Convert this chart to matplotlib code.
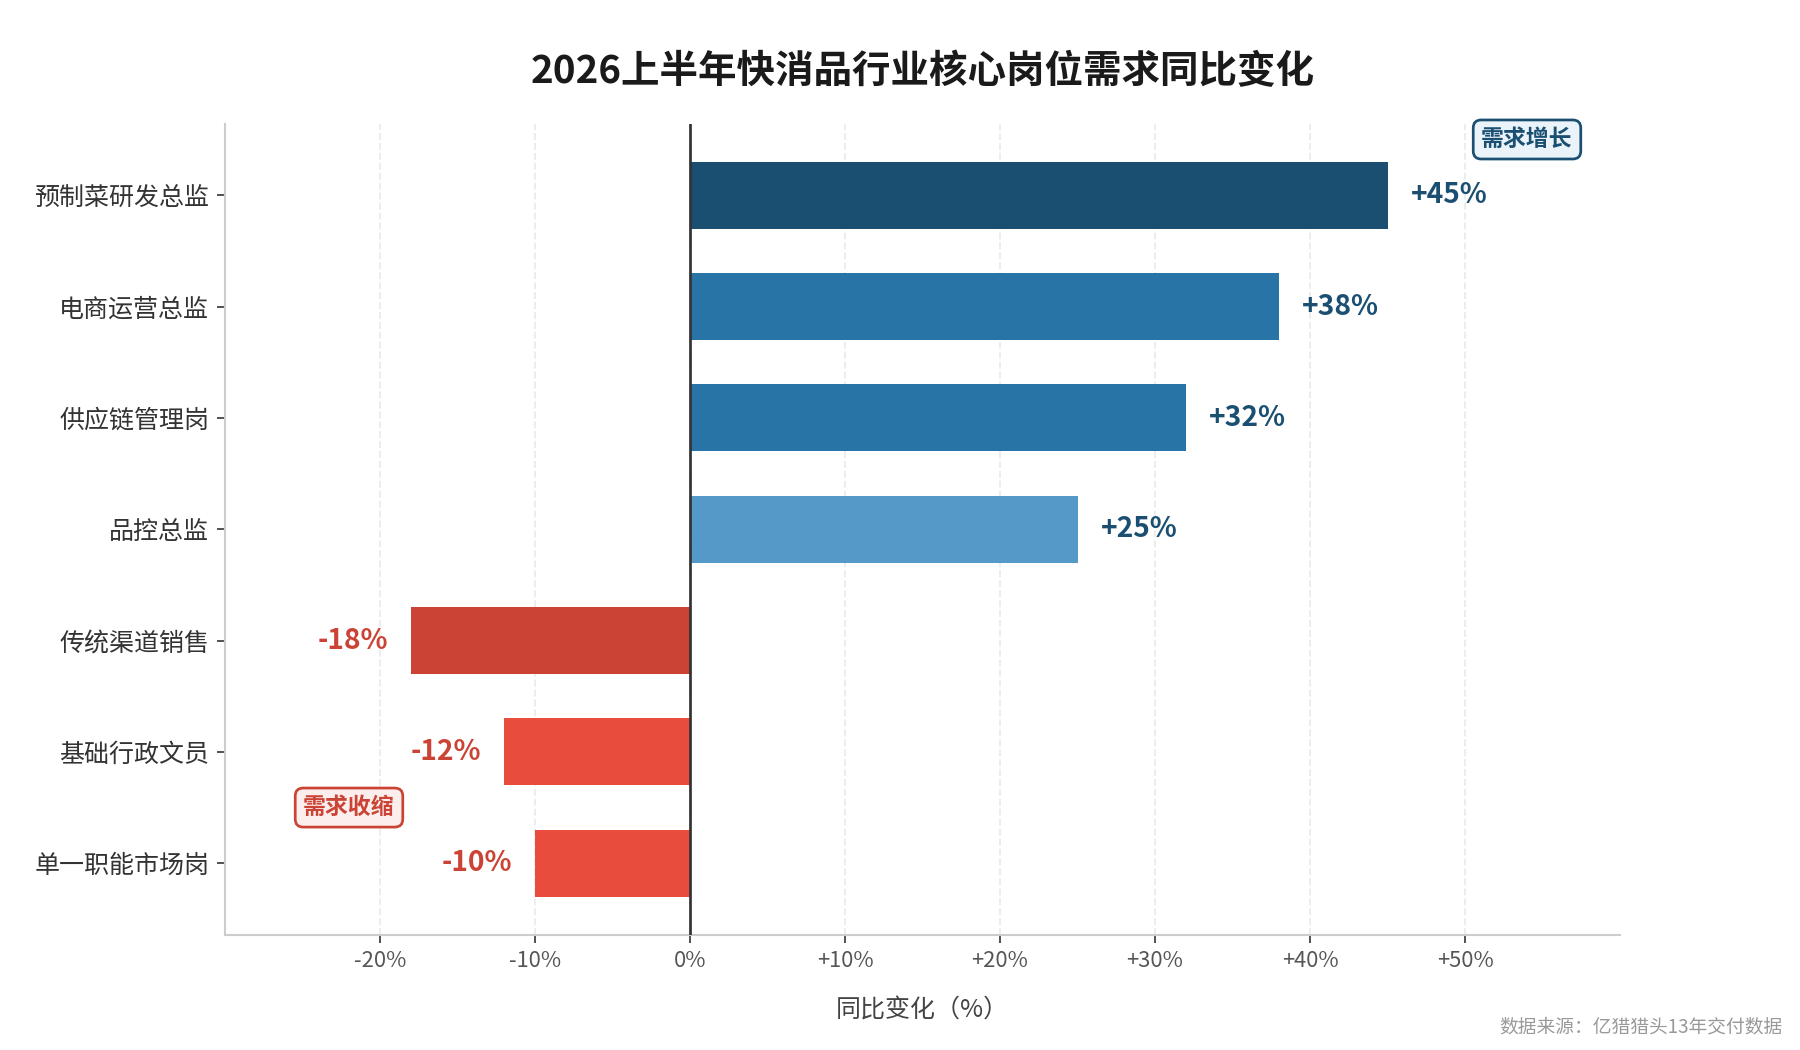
import matplotlib.pyplot as plt
import numpy as np

plt.rcParams['font.family'] = ['Noto Sans CJK SC', 'DejaVu Sans']
plt.rcParams['axes.unicode_minus'] = False

# data
jobs = ['预制菜研发总监', '电商运营总监', '供应链管理岗', '品控总监',
        '传统渠道销售', '基础行政文员', '单一职能市场岗']
change = [45, 38, 32, 25, -18, -12, -10]
colors = ['#1b4f72', '#2874a6', '#2874a6', '#5499c7',
          '#cb4335', '#e74c3c', '#e74c3c']
xticks = [-20, -10, 0, 10, 20, 30, 40, 50]

fig = plt.figure(figsize=(12, 7), dpi=150)
ax = fig.add_axes([0.125, 0.11, 0.775, 0.772])

y = np.arange(len(jobs))
ax.barh(y, change, height=0.6, color=colors, zorder=3)

for i, v in enumerate(change):
    if v > 0:
        ax.text(v + 1.5, i, f'+{v}%', va='center', ha='left',
                fontsize=13.5, fontweight='bold', color='#1b4f72', zorder=4)
    else:
        ax.text(v - 1.5, i, f'{v}%', va='center', ha='right',
                fontsize=13.5, fontweight='bold', color='#cb4335', zorder=4)

ax.axvline(0, color='#333333', linewidth=1.3, zorder=4)

ax.set_yticks(y)
ax.set_yticklabels(jobs, fontsize=12, color='#333333')
ax.set_ylim(6.64, -0.64)
ax.set_xlim(-30, 60)
ax.set_xticks(xticks)
ax.set_xticklabels(['0%' if t == 0 else (f'+{t}%' if t > 0 else f'{t}%') for t in xticks],
                   fontsize=10.5, color='#555555')
ax.set_xlabel('同比变化（%）', fontsize=12, color='#444444', labelpad=12)

ax.grid(axis='x', linestyle='--', color='#ececec', linewidth=0.9, zorder=0)
for s in ['top', 'right']:
    ax.spines[s].set_visible(False)
for s in ['left', 'bottom']:
    ax.spines[s].set_color('#cccccc')
    ax.spines[s].set_linewidth(1.0)
ax.tick_params(axis='both', colors='#333333', length=4)
ax.tick_params(axis='x', labelcolor='#555555')

ax.text(54, -0.5, '需求增长', ha='center', va='center', fontsize=11,
        fontweight='bold', color='#1b4f72', zorder=5,
        bbox=dict(boxstyle='round,pad=0.35', fc='#eaf2fa', ec='#1b4f72', lw=1.3))
ax.text(-22, 5.5, '需求收缩', ha='center', va='center', fontsize=11,
        fontweight='bold', color='#cb4335', zorder=5,
        bbox=dict(boxstyle='round,pad=0.35', fc='#fdeeee', ec='#cb4335', lw=1.3))

fig.text(0.5125, 0.932, '2026上半年快消品行业核心岗位需求同比变化', ha='center', va='center',
         fontsize=18.5, fontweight='bold', color='#1a1a1a')
fig.text(0.99, 0.022, '数据来源：亿猎猎头13年交付数据', ha='right', va='center',
         fontsize=9, color='#999999')

fig.savefig('out.png', dpi=150)
